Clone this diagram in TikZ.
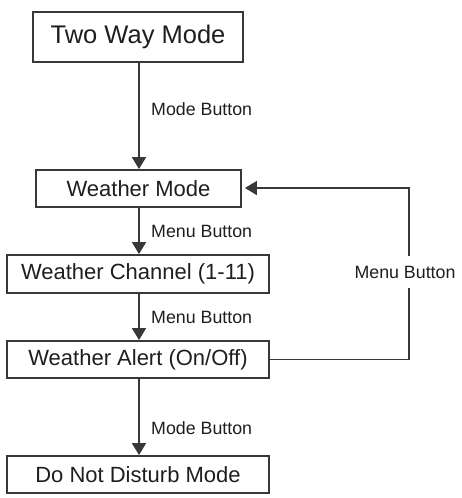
\documentclass[tikz,border=0pt]{standalone}
\usepackage{fontspec}
\setmainfont{Liberation Sans}
\usetikzlibrary{arrows.meta}
\definecolor{linec}{HTML}{383838}
\definecolor{textc}{HTML}{1E1E1E}
\begin{document}
\begin{tikzpicture}[x=1pt,y=-1pt,
  box/.style={draw=linec,line width=1.8pt,inner sep=0pt,text=textc,font=\fontsize{22}{26}\selectfont},
  lbl/.style={anchor=west,inner sep=0pt,text=textc,font=\fontsize{17.8}{20}\selectfont},
  conn/.style={draw=linec,line width=1.5pt,-{Triangle[length=12pt,width=14pt]}},
  plain/.style={draw=linec,line width=1.5pt}]
\useasboundingbox (0,0) rectangle (462,498);
\node[box,minimum width=210pt,minimum height=50pt,font=\fontsize{25.5}{30}\selectfont] (b1) at (138,37) {Two Way Mode};
\node[box,minimum width=205pt,minimum height=37pt] (b2) at (138.5,188.5) {Weather Mode};
\node[box,minimum width=262pt,minimum height=38pt] (b3) at (138,274) {Weather Channel (1-11)};
\node[box,minimum width=262pt,minimum height=37pt] (b4) at (138,359.5) {Weather Alert (On/Off)};
\node[box,minimum width=262pt,minimum height=37pt] (b5) at (138,474.5) {Do Not Disturb Mode};
\node[lbl] (l1) at (151,109) {Mode Button};
\node[lbl] (l2) at (151,231) {Menu Button};
\node[lbl] (l3) at (151,317) {Menu Button};
\node[lbl] (l4) at (151,428) {Mode Button};
\node[inner sep=0pt,text=textc,font=\fontsize{17.8}{20}\selectfont,minimum height=32pt] (l5) at (405,272) {Menu Button};
\coordinate (s1) at (139,0);
\coordinate (c1) at (409,359.5);
\coordinate (c2) at (409,188);
\draw[conn] (b1.south -| s1) -- (b2.north -| s1);
\draw[conn] (b2.south -| s1) -- (b3.north -| s1);
\draw[conn] (b3.south -| s1) -- (b4.north -| s1);
\draw[conn] (b4.south -| s1) -- (b5.north -| s1);
\draw[plain] (b4.east) -- (c1) -- (c1 |- l5.south);
\draw[conn,shorten >=3pt] (c1 |- l5.north) -- (c2) -- (c2 -| b2.east);
\end{tikzpicture}
\end{document}
